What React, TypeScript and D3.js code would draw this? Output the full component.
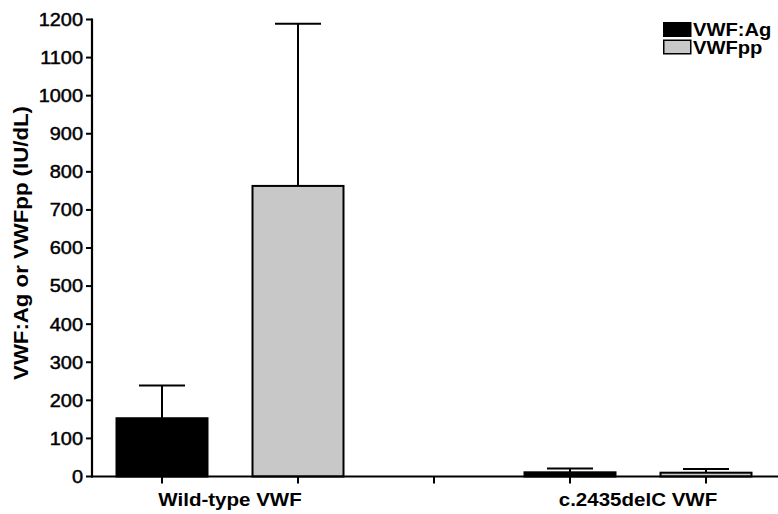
import React from "react";
import * as d3 from "d3";

// values
const groups = ["Wild-type VWF", "c.2435delC VWF"];
const seriesNames = ["VWF:Ag", "VWFpp"];
const agMean = [153, 11];
const agSD = [86, 10];
const ppMean = [763, 10];
const ppSD = [426, 10];
const yTickValues = [0, 100, 200, 300, 400, 500, 600, 700, 800, 900, 1000, 1100, 1200];

const fills = ["#000000", "#c8c8c8"];
const font = "'Liberation Sans', Arial, sans-serif";
const SX = 1.14; // glyphs in the original are a bit wide

const App = () => {
  const width = 778;
  const height = 514;
  const axisX = 92;
  const axisY = 476.5;

  const yScale = d3.scaleLinear().domain([0, 1200]).range([axisY, 19.5]);
  // five slots: two bars per group, one empty slot between
  const xScale = d3.scaleLinear().domain([0, 4]).range([162, 706]);
  const barW = 91;
  const capW = 46;

  const bars = groups.flatMap((g, gi) => [
    { slot: gi * 3, mean: agMean[gi], sd: agSD[gi], s: 0 },
    { slot: gi * 3 + 1, mean: ppMean[gi], sd: ppSD[gi], s: 1 },
  ]);

  return (
    <svg
      width={width}
      height={height}
      style={{ position: "absolute", left: 0, top: 0, background: "#fff" }}
    >
      {/* error bars, behind the bars */}
      {bars.map((b, i) => {
        const cx = xScale(b.slot);
        const yTop = yScale(b.mean + b.sd);
        return (
          <g key={"e" + i} stroke="#000" strokeWidth={2}>
            <line x1={cx} x2={cx} y1={yScale(b.mean)} y2={yTop} />
            <line x1={cx - capW / 2} x2={cx + capW / 2} y1={yTop} y2={yTop} />
          </g>
        );
      })}

      {/* bars */}
      {bars.map((b, i) => {
        const cx = xScale(b.slot);
        const y = yScale(b.mean);
        return (
          <rect
            key={"b" + i}
            x={cx - barW / 2}
            y={y}
            width={barW}
            height={axisY - y}
            fill={fills[b.s]}
            stroke="#000"
            strokeWidth={2}
          />
        );
      })}

      {/* y axis */}
      <line x1={axisX} x2={axisX} y1={yScale(1200) - 1} y2={axisY + 1} stroke="#000" strokeWidth={2.2} />
      {yTickValues.map((t) => (
        <g key={t}>
          <line x1={axisX - 6} x2={axisX} y1={yScale(t)} y2={yScale(t)} stroke="#000" strokeWidth={2} />
          <text
            transform={`translate(${axisX - 9},${yScale(t) + 6.4}) scale(${SX},1)`}
            textAnchor="end"
            fontFamily={font}
            fontSize={17.5}
            fill="#000"
            stroke="#000"
            strokeWidth={0.45}
          >
            {t}
          </text>
        </g>
      ))}

      {/* x axis */}
      <line x1={axisX - 1} x2={width} y1={axisY} y2={axisY} stroke="#000" strokeWidth={2.2} />
      {d3.range(5).map((s) => (
        <line key={s} x1={xScale(s)} x2={xScale(s)} y1={axisY} y2={axisY + 7} stroke="#000" strokeWidth={2} />
      ))}
      {groups.map((g, gi) => (
        <text
          key={g}
          transform={`translate(${(xScale(gi * 3) + xScale(gi * 3 + 1)) / 2},506) scale(${SX},1)`}
          textAnchor="middle"
          fontFamily={font}
          fontWeight="bold"
          fontSize={18}
          fill="#000"
        >
          {g}
        </text>
      ))}

      {/* y axis title */}
      <text
        transform={`translate(28,243) rotate(-90) scale(${SX},1)`}
        textAnchor="middle"
        fontFamily={font}
        fontWeight="bold"
        fontSize={19.5}
        fill="#000"
      >
        VWF:Ag or VWFpp (IU/dL)
      </text>

      {/* legend */}
      {seriesNames.map((n, i) => (
        <g key={n} transform={`translate(663,${22 + i * 17.5})`}>
          <rect x={0.75} y={0.75} width={27} height={13.5} fill={fills[i]} stroke="#000" strokeWidth={1.5} />
          <text
            transform={`translate(30,14.3) scale(1.26,1.1)`}
            fontFamily={font}
            fontWeight="bold"
            fontSize={16}
            fill="#000"
          >
            {n}
          </text>
        </g>
      ))}
    </svg>
  );
};

export default App;
